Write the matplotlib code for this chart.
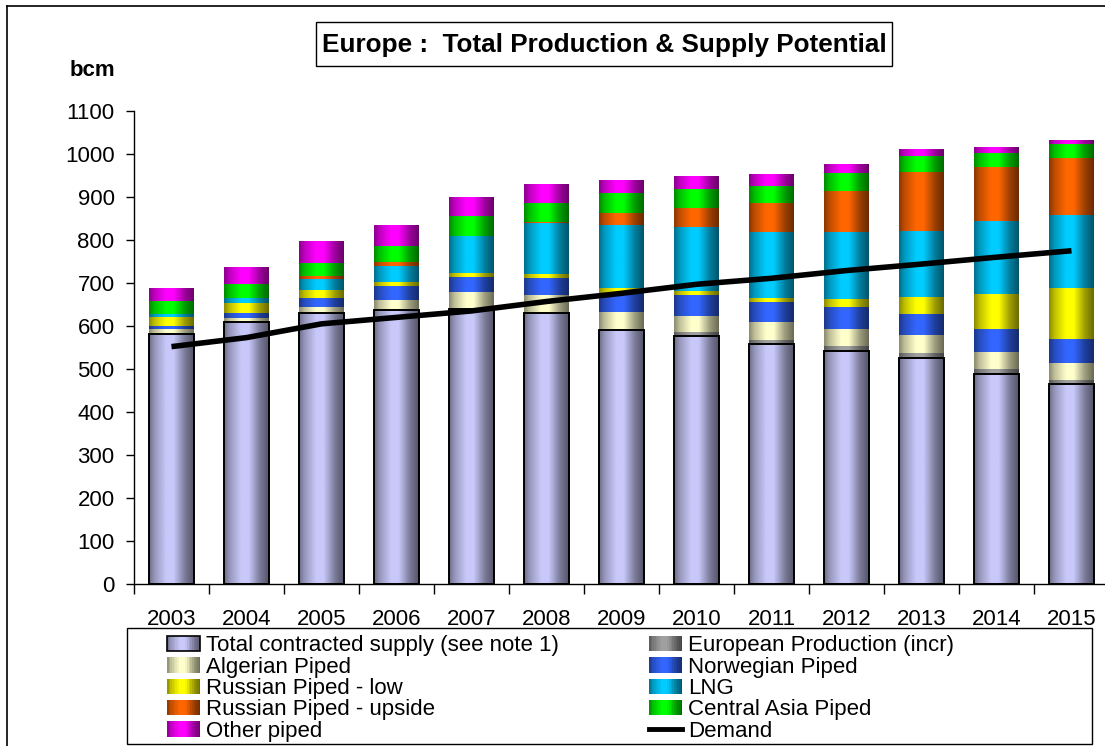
import numpy as np
import matplotlib
matplotlib.use("Agg")
import matplotlib.pyplot as plt
from matplotlib.patches import Rectangle
from matplotlib.legend_handler import HandlerBase
from matplotlib.lines import Line2D
import matplotlib.colors as mcolors

plt.rcParams['font.family'] = ['Liberation Sans', 'DejaVu Sans']

# ---------------- data ----------------
years = ["2003", "2004", "2005", "2006", "2007", "2008", "2009",
         "2010", "2011", "2012", "2013", "2014", "2015"]
contracted = [581, 610, 630, 638, 640, 631, 591, 577, 558, 543, 526, 489, 465]
european_prod = [0, 0, 0, 0, 0, 0, 0, 9, 9, 10, 11, 11, 9]
algerian = [11, 8, 14, 22, 39, 41, 42, 37, 42, 40, 42, 40, 40]
norwegian = [8, 12, 20, 32, 35, 40, 43, 48, 47, 51, 49, 53, 56]
russian_low = [20, 23, 20, 10, 9, 9, 12, 10, 10, 19, 39, 82, 119]
lng = [8, 12, 25, 38, 86, 119, 146, 149, 153, 156, 154, 169, 169]
russian_upside = [0, 0, 7, 9, 0, 3, 29, 45, 67, 95, 138, 126, 133]
central_asia = [30, 33, 30, 37, 47, 43, 46, 44, 40, 41, 37, 32, 33]
other_piped = [28, 39, 49, 47, 44, 43, 28, 28, 27, 19, 16, 13, 9]
demand = [552, 573, 605, 620, 635, 657, 676, 697, 711, 729, 744, 760, 775]

series_labels = ["Total contracted supply (see note 1)", "European Production (incr)",
                 "Algerian Piped", "Norwegian Piped", "Russian Piped - low", "LNG",
                 "Russian Piped - upside", "Central Asia Piped", "Other piped"]
series_values = [contracted, european_prod, algerian, norwegian, russian_low, lng,
                 russian_upside, central_asia, other_piped]
series_colors = ["#C8C8FA", "#A0A0A0", "#FFFFCC", "#3366FF", "#FFFF00", "#00CCFF",
                 "#FF6600", "#00FF00", "#FF00FF"]
demand_label = "Demand"
title = "Europe :  Total Production & Supply Potential"
ylabel = "bcm"

# ---------------- helpers ----------------
W, H = 1105, 746
prof_t = [0.0, 0.12, 0.38, 0.55, 0.8, 1.0]
prof_v = [0.55, 0.75, 1.0, 1.0, 0.62, 0.42]


def shade(color, t):
    rgb = np.array(mcolors.to_rgb(color))
    f = np.interp(t, prof_t, prof_v)
    return np.clip(rgb * f, 0, 1)


def gradient_array(color, n=64):
    ts = np.linspace(0, 1, n)
    return np.array([[shade(color, t) for t in ts]])


class GradHandler(HandlerBase):
    def __init__(self, color, edge=False):
        super().__init__()
        self.color = color
        self.edge = edge

    def create_artists(self, legend, orig_handle, xdescent, ydescent,
                       width, height, fontsize, trans):
        arts = []
        n = 20
        for i in range(n):
            t = (i + 0.5) / n
            r = Rectangle((-xdescent + width * i / n, -ydescent), width / n * 1.08, height,
                          facecolor=shade(self.color, t), edgecolor='none', transform=trans)
            arts.append(r)
        if self.edge:
            arts.append(Rectangle((-xdescent, -ydescent), width, height, facecolor='none',
                                  edgecolor='black', lw=1.2, transform=trans))
        return arts


# ---------------- figure ----------------
fig = plt.figure(figsize=(W / 100, H / 100), dpi=100)
ax = fig.add_axes([134 / W, 1 - 584 / H, (1109 - 134) / W, (584 - 111) / H])

x = np.arange(len(years))
bw = 0.6
bottom = np.zeros(len(years))
for vals, col, lab in zip(series_values, series_colors, series_labels):
    vals = np.array(vals, dtype=float)
    bars = ax.bar(x, vals, width=bw, bottom=bottom, color=col, linewidth=0, zorder=2)
    grad = gradient_array(col)
    for p, v in zip(bars.patches, vals):
        if v <= 0:
            continue
        x0, y0 = p.get_x(), p.get_y()
        ax.imshow(grad, extent=[x0, x0 + p.get_width(), y0, y0 + p.get_height()],
                  aspect='auto', interpolation='bilinear', zorder=3)
    if lab == series_labels[0]:
        ax.bar(x, vals, width=bw, bottom=bottom, fill=False, edgecolor='black',
               linewidth=1.4, zorder=4)
    bottom = bottom + vals

ax.plot(x, demand, color='black', lw=4.0, zorder=6, solid_capstyle='butt')

ax.set_xlim(-0.5, len(years) - 0.5)
ax.set_ylim(0, 1100)
ax.set_yticks(np.arange(0, 1101, 100))
ax.set_xticks(x)
ax.set_xticklabels(years)
ax.set_xticks(np.arange(-0.5, len(years), 1), minor=True)
ax.tick_params(axis='x', which='major', length=0, pad=18, labelsize=16)
ax.tick_params(axis='x', which='minor', length=7, direction='out', width=1)
ax.tick_params(axis='y', which='major', length=6, direction='out', width=1,
               pad=8, labelsize=16)
ax.spines['top'].set_visible(False)
ax.spines['right'].set_visible(False)
for s in ('left', 'bottom'):
    ax.spines[s].set_linewidth(1.0)

fig.text(115 / W, 1 - 70 / H, ylabel, ha='right', va='center', fontsize=16,
         fontweight='bold')

# title box
fig.patches.append(Rectangle((316 / W, 1 - 66 / H), (892 - 316) / W, 44 / H,
                             transform=fig.transFigure, facecolor='white',
                             edgecolor='black', lw=1.0, zorder=1))
fig.text(604 / W, 1 - 45 / H, title, ha='center', va='center', fontsize=18.8,
         fontweight='bold', zorder=2)

# outer border (top and left visible)
fig.lines.append(Line2D([7 / W, 7 / W], [1 - 6 / H, 0], transform=fig.transFigure,
                        color='black', lw=1.2))
fig.lines.append(Line2D([7 / W, 1], [1 - 6 / H, 1 - 6 / H], transform=fig.transFigure,
                        color='black', lw=1.2))

# legend box
fig.patches.append(Rectangle((127 / W, 1 - 744 / H), (1092 - 127) / W, (744 - 628) / H,
                             transform=fig.transFigure, facecolor='white',
                             edgecolor='black', lw=1.0, zorder=1))

proxies = [Rectangle((0, 0), 1, 1, facecolor=c) for c in series_colors]
hmap = {p: GradHandler(c, edge=(i == 0)) for i, (p, c) in enumerate(zip(proxies, series_colors))}
demand_proxy = Line2D([], [], color='black', lw=3.5)

col1_idx = [0, 2, 4, 6, 8]
col2_idx = [1, 3, 5, 7]
leg_kw = dict(loc='upper left', frameon=False, fontsize=16, borderpad=0,
              borderaxespad=0, handlelength=1.5, handleheight=0.68,
              handletextpad=0.27, labelspacing=0.015)
leg1 = fig.legend([proxies[i] for i in col1_idx], [series_labels[i] for i in col1_idx],
                  bbox_to_anchor=(167 / W, 1 - 635.5 / H), handler_map=hmap, **leg_kw)
leg2 = fig.legend([proxies[i] for i in col2_idx] + [demand_proxy],
                  [series_labels[i] for i in col2_idx] + [demand_label],
                  bbox_to_anchor=(649 / W, 1 - 635.5 / H), handler_map=hmap, **leg_kw)

fig.savefig("out.png", dpi=100)
